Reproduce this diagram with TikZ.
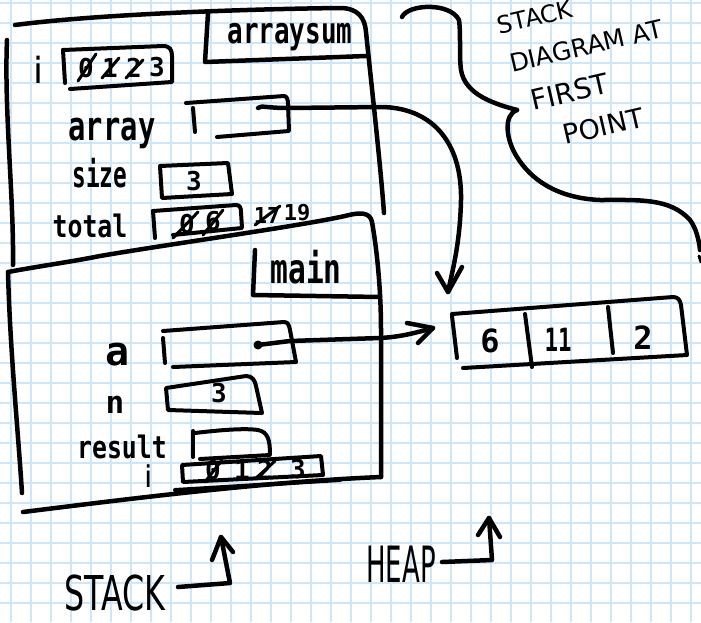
\documentclass[tikz,border=0pt]{standalone}
\usepackage{fontspec}
\newfontfamily\handfont{DejaVu Sans Mono}
\newfontfamily\capfont{DejaVu Sans}
\newcommand\myhf[1]{\handfont\bfseries\fontsize{#1}{#1}\selectfont}
\newcommand\mycf[1]{\capfont\fontsize{#1}{#1}\selectfont}
\definecolor{gridblue}{RGB}{206,230,249}
\begin{document}
\begin{tikzpicture}[x=1pt,y=-1pt,
  ink/.style={line width=4.5pt,line cap=round,line join=round},
  pen/.style={line width=4pt,line cap=round,line join=round},
  thinpen/.style={line width=3pt,line cap=round},
  lbl/.style={inner sep=0pt,anchor=base},
  dg/.style={inner sep=0pt,font=\myhf{26}},
  gridline/.style={gridblue,line width=1.6pt}]
\useasboundingbox (0,0) rectangle (701,622);
\fill[white] (0,0) rectangle (701,622);
\foreach \gx in {11,31,...,691} \draw[gridline] (\gx,0) -- (\gx,622);
\foreach \gy in {3,23,...,603} \draw[gridline] (0,\gy) -- (701,\gy);

% ---------- arraysum frame ----------
\draw[ink] (7,40) .. controls (4,110) and (14,200) .. (13,265);
\draw[ink] (15,25) .. controls (100,14) and (250,9) .. (340,8) .. controls (358,8) and (365,18) .. (366,32) .. controls (372,90) and (380,160) .. (384,213);
\draw[ink] (208,13) -- (205,62) -- (366,56);
\node[lbl,font=\myhf{36},xscale=0.72] (fsum) at (290,43) {arraysum};

% ---------- main frame ----------
\draw[ink] (8,272) .. controls (40,266) and (70,262) .. (100,256) .. controls (170,244) and (300,226) .. (345,216) .. controls (360,212) and (370,212) .. (372,222) .. controls (377,250) and (381,290) .. (381,330) -- (381,477);
\draw[ink] (8,272) .. controls (10,350) and (18,430) .. (22,493);
\draw[ink] (23,512) .. controls (120,500) and (260,482) .. (381,477);
\draw[ink] (255,250) -- (253,295) -- (380,297);
\node[lbl,font=\myhf{41},xscale=0.72] (fmain) at (306,283) {main};

% ---------- arraysum variables ----------
\node[lbl,font=\mycf{36}] (li) at (39,83) {i};
\draw[pen] (63,50) -- (65,83);
\draw[pen] (63,50) -- (163,46) .. controls (170,46) and (172,50) .. (172,56) -- (172,82) -- (70,89);
\node[dg] (i0) at (86,68) {0};
\node[dg] (i1) at (110,68) {1};
\node[dg] (i2) at (134,68) {2};
\node[dg] (i3) at (157,67) {3};
\draw[thinpen] (78,81) -- (96,54);
\draw[thinpen] (102,78) -- (119,58);
\draw[thinpen] (126,78) -- (143,60);

\node[lbl,font=\myhf{40},xscale=0.72] (larray) at (112,140) {array};
\draw[pen] (186,103) -- (284,96) .. controls (287,96) and (288,100) .. (288,104) -- (289,131) -- (217,137);
\draw[pen] (193,108) -- (195,132);
\coordinate (arrsrc) at (258,108);
\coordinate (arrtip) at (448,292);

\node[lbl,font=\myhf{36},xscale=0.63] (lsize) at (100,187) {size};
\draw[pen] (160,166) -- (228,163) -- (232,194) -- (162,198) -- cycle;
\node[dg] (sz) at (194,181) {3};

\node[lbl,font=\myhf{31},xscale=0.8] (ltotal) at (90,237) {total};
\draw[pen] (153,211) -- (236,205) .. controls (240,205) and (241,208) .. (241,212) -- (242,228) -- (173,235);
\draw[pen] (153,211) -- (155,238);
\node[dg] (t0) at (187,224) {0};
\node[dg] (t6) at (213,221) {6};
\draw[thinpen] (173,238) -- (198,212);
\draw[thinpen] (203,235) -- (223,210);
\node[dg,font=\myhf{22}] (t17) at (267,215) {17};
\draw[thinpen] (255,225) -- (280,206);
\node[dg,font=\myhf{22}] (t19) at (297,213) {19};

% ---------- main variables ----------
\node[lbl,font=\myhf{40}] (la) at (118,365) {a};
\draw[pen] (163,331) -- (284,322) .. controls (288,322) and (289,325) .. (290,330) -- (296,362) -- (173,367);
\draw[pen] (163,338) -- (165,363);
\fill (258,345) circle (4.5);
\coordinate (adot) at (258,345);
\coordinate (atip) at (433,328);

\node[lbl,font=\myhf{31}] (ln) at (115,413) {n};
\draw[pen] (166,388) -- (246,376) .. controls (252,376) and (255,380) .. (256,386) -- (262,413) -- (168,410) -- cycle;
\node[dg] (nv) at (219,393) {3};

\node[lbl,font=\myhf{31},xscale=0.8] (lresult) at (122,458) {result};
\draw[pen] (193,431) -- (193,457);
\draw[pen] (195,433) .. controls (220,430) and (245,428) .. (258,430) .. controls (268,432) and (270,440) .. (270,455) -- (200,459);

\node[lbl,font=\mycf{30}] (li2) at (149,487) {i};
\draw[pen] (182,465) -- (183,482) -- (323,475) -- (321,456) -- cycle;
\draw[pen] (175,490) -- (340,480);
\node[dg] (m0) at (213,470) {0};
\node[dg] (m1) at (242,470) {1};
\node[dg] (m2) at (265,470) {2};
\node[dg] (m3) at (298,469) {3};
\draw[thinpen] (205,482) -- (222,460);
\draw[thinpen] (255,479) -- (275,461);

% ---------- heap ----------
\draw[pen] (452,314) -- (673,297) .. controls (678,297) and (680,300) .. (681,305) -- (687,355) -- (463,368);
\draw[pen] (452,316) -- (457,358);
\draw[pen] (525,314) -- (532,367);
\draw[pen] (608,307) -- (613,353);
\node[dg,font=\myhf{32}] (h0) at (490,341) {6};
\node[dg,font=\myhf{32},xscale=0.7] (h1) at (558,340) {11};
\node[dg,font=\myhf{32}] (h2) at (643,338) {2};

% ---------- pointers ----------
\draw[ink] (arrsrc) .. controls (262,105) and (265,108) .. (288,108) -- (380,107) .. controls (430,107) and (462,140) .. (461,200) .. controls (460,245) and (452,272) .. (arrtip);
\draw[ink] (437,273) -- (arrtip) -- (462,267);
\draw[ink] (adot) -- (290,341) -- (380,338) .. controls (400,337) and (415,333) .. (atip);
\draw[ink] (407,323) -- (atip) -- (418,343);

% ---------- note with brace ----------
\draw[ink] (402,17) .. controls (408,4) and (450,2) .. (459,20) .. controls (461,35) and (459,55) .. (461,70) .. controls (465,95) and (495,104) .. (517,110);
\draw[ink] (517,110) .. controls (503,115) and (506,140) .. (517,157) .. controls (530,178) and (555,198) .. (600,200) .. controls (640,200) and (670,198) .. (690,220) .. controls (696,228) and (699,240) .. (700,250);
\draw[thinpen] (699,256) -- (701,262);
\node[inner sep=0pt,font=\mycf{24},rotate=13] (n1) at (535,17) {STACK};
\node[inner sep=0pt,font=\mycf{25},rotate=13] (n2) at (586,46) {DIAGRAM AT};
\node[inner sep=0pt,font=\mycf{28},rotate=13] (n3) at (570,92) {FIRST};
\node[inner sep=0pt,font=\mycf{27},rotate=13] (n4) at (603,126) {POINT};

% ---------- bottom captions ----------
\node[inner sep=0pt,font=\mycf{48},xscale=0.66] (stk) at (115,593) {STACK};
\coordinate (sa0) at (178,587);
\coordinate (sa1) at (230,583);
\coordinate (satip) at (221,537);
\draw[ink] (sa0) -- (sa1) -- (satip);
\draw[ink] (212,560) -- (satip) -- (233,552);

\node[inner sep=0pt,font=\mycf{50},xscale=0.52] (hp) at (401,564) {HEAP};
\coordinate (ha0) at (442,562);
\coordinate (ha1) at (492,560);
\coordinate (hatip) at (489,518);
\draw[ink] (ha0) -- (ha1) -- (hatip);
\draw[ink] (478,535) -- (hatip) -- (500,537);
\end{tikzpicture}
\end{document}
